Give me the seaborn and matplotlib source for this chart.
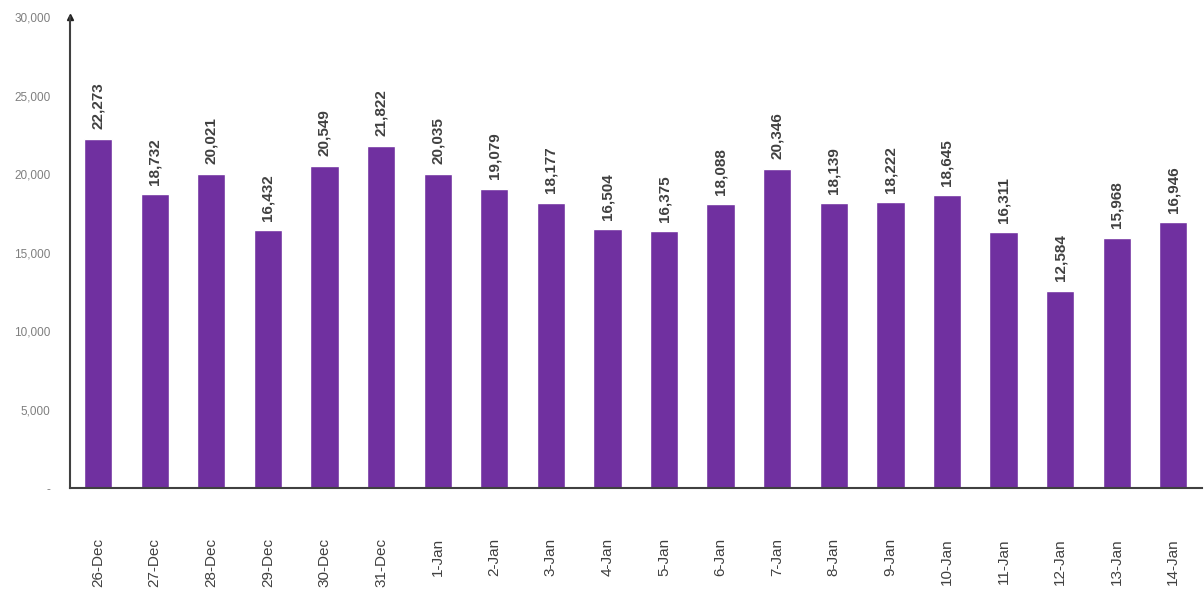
import numpy as np
import pandas as pd
import matplotlib
matplotlib.use('Agg')
import matplotlib.pyplot as plt
import seaborn as sns

days = ['26-Dec', '27-Dec', '28-Dec', '29-Dec', '30-Dec', '31-Dec', '1-Jan', '2-Jan',
        '3-Jan', '4-Jan', '5-Jan', '6-Jan', '7-Jan', '8-Jan', '9-Jan', '10-Jan',
        '11-Jan', '12-Jan', '13-Jan', '14-Jan']
cases = [22273, 18732, 20021, 16432, 20549, 21822, 20035, 19079, 18177, 16504,
         16375, 18088, 20346, 18139, 18222, 18645, 16311, 12584, 15968, 16946]
yticks = [0, 5000, 10000, 15000, 20000, 25000, 30000]
ytick_labels = ['-', '5,000', '10,000', '15,000', '20,000', '25,000', '30,000']

df = pd.DataFrame({'day': days, 'cases': cases})

sns.set_style('white')
plt.rcParams['font.family'] = ['Liberation Sans', 'DejaVu Sans']

fig = plt.figure(figsize=(12.04, 5.96), dpi=100)
ax = fig.add_axes([0.058, 0.181, 0.94, 0.79])
sns.barplot(data=df, x='day', y='cases', color='#7030A0', width=0.5,
            saturation=1, ax=ax)

ax.set_xlim(-0.5, 19.5)
ax.set_ylim(0, 30000)
ax.set_yticks(yticks)
ax.set_yticklabels(ytick_labels, fontsize=8.5, color='#7f7f7f')
ax.set_xticks(range(len(days)))
ax.set_xticklabels(days, rotation=90, fontsize=11, color='#404040')
ax.tick_params(axis='x', length=0, pad=36)
ax.tick_params(axis='y', length=0, pad=14)
ax.set_xlabel('')
ax.set_ylabel('')

for s in ['top', 'right']:
    ax.spines[s].set_visible(False)
for s in ['left', 'bottom']:
    ax.spines[s].set_color('#404040')
    ax.spines[s].set_linewidth(1.5)
ax.plot(0, 1, marker='^', color='#202020', markersize=4,
        transform=ax.transAxes, clip_on=False)

for i, v in enumerate(cases):
    ax.text(i, v + 600, f'{v:,}', rotation=90, ha='center', va='bottom',
            fontsize=11, fontweight='bold', color='#404040')

fig.savefig('out.png', dpi=100)
